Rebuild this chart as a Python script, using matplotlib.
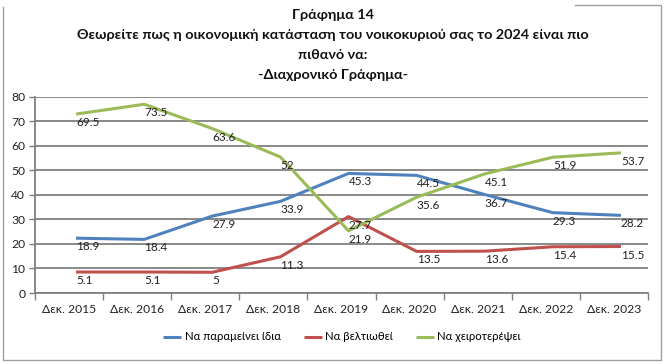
import matplotlib
matplotlib.use("Agg")
import matplotlib.pyplot as plt
import matplotlib.transforms as mtransforms
import numpy as np

plt.rcParams["font.family"] = ["Lato", "DejaVu Sans"]

years = ["Δεκ. 2015", "Δεκ. 2016", "Δεκ. 2017", "Δεκ. 2018", "Δεκ. 2019",
         "Δεκ. 2020", "Δεκ. 2021", "Δεκ. 2022", "Δεκ. 2023"]
same = [18.9, 18.4, 27.9, 33.9, 45.3, 44.5, 36.7, 29.3, 28.2]
better = [5.1, 5.1, 5, 11.3, 27.7, 13.5, 13.6, 15.4, 15.5]
worse = [69.5, 73.5, 63.6, 52, 21.9, 35.6, 45.1, 51.9, 53.7]

series = [
    ("Να παραμείνει ίδια", same, "#4F81BD"),
    ("Να βελτιωθεί", better, "#C0504D"),
    ("Να χειροτερέψει", worse, "#9BBB59"),
]

fig = plt.figure(figsize=(6.67, 3.64), dpi=100)
ax = fig.add_axes([0.0525, 0.195, 0.919, 0.539])

x = np.arange(len(years))
# in the original the lines sit a little above/right of their value labels
line_off = mtransforms.ScaledTranslation(7 / 100, 8.5 / 100, fig.dpi_scale_trans)
lab_off = mtransforms.ScaledTranslation(7 / 100, 0, fig.dpi_scale_trans)

for name, vals, col in series:
    ax.plot(x, vals, color=col, lw=2.2, label=name, transform=ax.transData + line_off,
            solid_capstyle="butt", zorder=3)
    for xi, v in zip(x, vals):
        ax.text(xi, v, f"{v:g}", transform=ax.transData + lab_off, ha="left", va="center",
                fontsize=8.5, color="#222222", zorder=4)

ax.set_xlim(-0.5, len(years) - 0.5)
ax.set_ylim(0, 80)
ax.set_yticks(range(0, 81, 10))
ax.set_xticks(x)
ax.set_xticklabels(years)
ax.set_xticks(np.arange(-0.5, len(years)), minor=True)
ax.tick_params(axis="x", which="major", length=0, pad=8, labelsize=8.7, labelcolor="#222222")
ax.tick_params(axis="x", which="minor", length=5, width=1, color="#808080")
ax.tick_params(axis="y", length=4, width=1, color="#808080", labelsize=8.7,
               labelcolor="#222222", pad=3)
ax.grid(True, axis="y", color="#808080", lw=1.3, zorder=1)
ax.set_axisbelow(True)
for s in ["top", "right"]:
    ax.spines[s].set_visible(False)
for s in ["left", "bottom"]:
    ax.spines[s].set_color("#808080")
    ax.spines[s].set_linewidth(1.3)

title_lines = ["Γράφημα 14",
               "Θεωρείτε πως η οικονομική κατάσταση του νοικοκυριού σας το 2024 είναι πιο",
               "πιθανό να:",
               "-Διαχρονικό Γράφημα-"]
for i, t in enumerate(title_lines):
    fig.text(333 / 667, 1 - (15 + i * 20) / 364, t, ha="center", va="center",
             fontsize=10.4, fontweight="bold", color="#111111")

fig.legend(loc="center", bbox_to_anchor=(342 / 667, 1 - 337 / 364), ncol=3,
           frameon=False, fontsize=8.2, handlelength=1.6, handletextpad=0.3,
           columnspacing=2.0)

# outer chart frame (the top edge is only visible at the right in the original)
W, H = 667, 364
frame_x = [575, 661, 661, 3, 3]
frame_y = [5, 5, 360, 360, 7]
fig.add_artist(plt.Line2D([v / W for v in frame_x], [1 - v / H for v in frame_y],
                          transform=fig.transFigure, color="#a0a0a0", lw=1))

fig.savefig("out.png", dpi=100)
